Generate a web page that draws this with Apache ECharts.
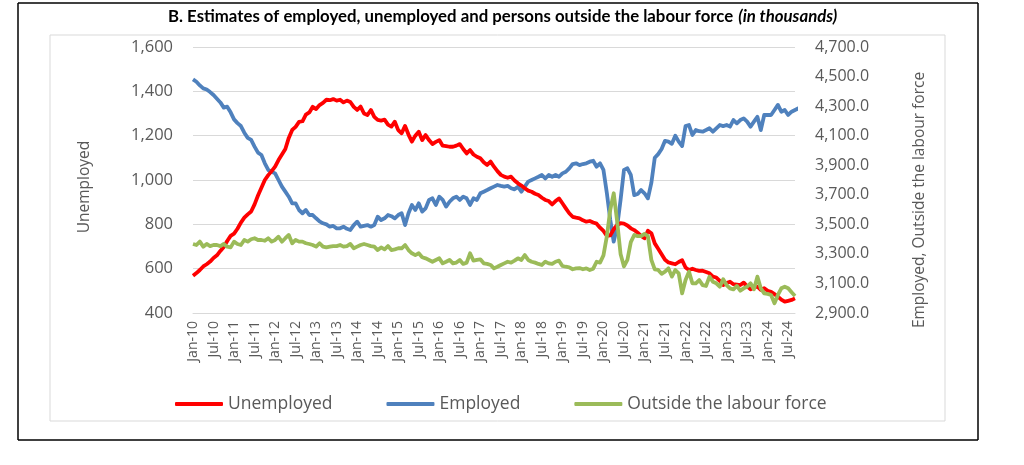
<!DOCTYPE html>
<html>
<head>
<meta charset="utf-8">
<script src="https://cdn.jsdelivr.net/npm/echarts@6/dist/echarts.min.js"></script>
<style>
html,body{margin:0;padding:0;background:#fff;}
#chart{width:1024px;height:465px;}
</style>
</head>
<body>
<div id="chart"></div>
<script>
// ---- Data (in thousands), monthly Jan-2010 .. Sep-2024 ----
var monthNames = ['Jan','Feb','Mar','Apr','May','Jun','Jul','Aug','Sep','Oct','Nov','Dec'];
var startYear = 2010;
var monthCount = 177;

var unemployed = [
568,580,594,610,620,632,648,660,680,698,725,748,
758,780,808,830,845,858,890,930,965,1000,1022,1040,
1060,1090,1115,1140,1190,1226,1240,1262,1265,1295,1305,1330,
1320,1338,1348,1362,1360,1365,1358,1362,1350,1358,1352,1330,
1316,1331,1300,1293,1316,1285,1271,1268,1272,1250,1241,1263,
1225,1211,1244,1205,1173,1200,1218,1180,1203,1180,1162,1172,
1180,1155,1153,1150,1150,1155,1162,1140,1120,1135,1115,1105,
1098,1080,1068,1083,1060,1040,1023,1015,1010,1015,998,985,
975,963,952,947,938,932,920,910,905,890,905,917,
895,872,850,834,830,827,818,812,815,808,803,785,
770,748,750,778,797,805,803,795,782,774,762,748,
737,771,760,714,690,665,640,628,624,620,630,638,
605,594,600,594,590,591,585,579,564,560,545,526,
535,541,530,528,526,537,520,507,515,519,505,512,
500,496,485,474,460,451,455,459,466
];

var employed = [
4481,4465,4440,4420,4412,4395,4375,4350,4325,4290,4296,4258,
4210,4185,4165,4120,4085,4071,4026,3985,3969,3913,3868,3856,
3845,3800,3755,3721,3687,3642,3642,3597,3575,3597,3563,3563,
3541,3520,3507,3500,3484,3489,3473,3473,3484,3470,3462,3495,
3518,3484,3490,3495,3484,3495,3552,3529,3541,3563,3555,3541,
3563,3575,3495,3575,3631,3597,3642,3586,3608,3665,3676,3631,
3687,3665,3620,3653,3676,3687,3665,3687,3676,3631,3676,3665,
3710,3721,3732,3744,3755,3766,3760,3755,3760,3744,3737,3755,
3721,3755,3789,3800,3811,3822,3834,3811,3834,3822,3834,3822,
3845,3856,3879,3908,3913,3901,3908,3913,3924,3930,3890,3913,
3868,3710,3529,3383,3484,3665,3868,3879,3834,3698,3705,3732,
3710,3676,3780,3950,3975,4010,4065,4060,4045,4100,4060,4030,
4165,4172,4105,4138,4130,4127,4138,4150,4127,4150,4172,4165,
4172,4161,4206,4184,4206,4217,4195,4161,4195,4228,4138,4240,
4240,4240,4274,4308,4262,4274,4240,4262,4274,4285,4296
];

var outsideLF = [
3367,3360,3383,3349,3367,3353,3360,3360,3353,3367,3349,3344,
3383,3367,3360,3394,3383,3399,3406,3394,3394,3389,3406,3383,
3394,3416,3383,3406,3428,3372,3394,3383,3383,3372,3367,3360,
3349,3372,3349,3344,3349,3353,3353,3360,3349,3353,3367,3338,
3349,3360,3367,3360,3353,3349,3326,3344,3331,3353,3326,3331,
3338,3338,3360,3326,3304,3292,3304,3277,3270,3259,3247,3259,
3270,3236,3247,3259,3236,3241,3259,3232,3241,3304,3254,3259,
3263,3236,3232,3225,3202,3213,3225,3236,3247,3241,3254,3270,
3259,3292,3259,3247,3241,3232,3225,3247,3236,3232,3247,3254,
3218,3213,3209,3196,3202,3204,3196,3202,3191,3200,3247,3241,
3290,3420,3600,3710,3520,3300,3215,3260,3380,3428,3420,3420,
3435,3420,3260,3195,3191,3165,3180,3202,3146,3191,3168,3033,
3123,3180,3101,3101,3123,3089,3083,3146,3112,3101,3078,3128,
3089,3067,3060,3083,3051,3067,3078,3101,3060,3146,3067,3033,
3029,3022,2966,3022,3067,3078,3067,3040,3015
];

var categories = [];
for (var k = 0; k < monthCount; k++) {
  var yy = startYear + Math.floor(k / 12);
  categories.push(monthNames[k % 12] + '-' + String(yy).slice(2));
}

var titleBold = 'B. Estimates of employed, unemployed and persons outside the labour force';
var titleItalic = '(in thousands)';
var leftAxisName = 'Unemployed';
var rightAxisName = 'Employed, Outside the labour force';
var seriesNames = ['Unemployed', 'Employed', 'Outside the labour force'];

var TFONT = 'Lato, "Open Sans", sans-serif';
var FONT = '"Open Sans", Lato, sans-serif';
var GREY = '#595959';

var chart = echarts.init(document.getElementById('chart'), null, {renderer: 'canvas'});
chart.setOption({
  animation: false,
  backgroundColor: '#ffffff',
  title: {
    text: '{b|' + titleBold + '} {i|' + titleItalic + '}',
    left: 163,
    top: 3,
    textStyle: {
      rich: {
        b: {fontFamily: TFONT, fontWeight: 'bold', fontSize: 16.8, color: '#000'},
        i: {fontFamily: TFONT, fontStyle: 'italic', fontSize: 16.8, color: '#000'}
      }
    }
  },
  graphic: [
    {type: 'line', shape: {x1: 18, y1: 3, x2: 978, y2: 3}, style: {stroke: '#000', lineWidth: 1.5}, silent: true},
    {type: 'line', shape: {x1: 18, y1: 3, x2: 18, y2: 440}, style: {stroke: '#000', lineWidth: 1.5}, silent: true},
    {type: 'line', shape: {x1: 978, y1: 3, x2: 978, y2: 440}, style: {stroke: '#000', lineWidth: 1.5}, silent: true},
    {type: 'line', shape: {x1: 18, y1: 440, x2: 978, y2: 440}, style: {stroke: '#000', lineWidth: 1.5}, silent: true},
    {type: 'rect', shape: {x: 50, y: 35, width: 895, height: 386}, style: {fill: 'none', stroke: '#d9d9d9', lineWidth: 1}, silent: true, z: -1}
  ],
  legend: {
    left: 170,
    top: 390,
    itemWidth: 48,
    itemHeight: 4,
    itemGap: 54,
    icon: 'roundRect',
    textStyle: {fontFamily: FONT, fontSize: 17.5, color: GREY},
    data: seriesNames
  },
  grid: {left: 193, right: 229, top: 47, bottom: 152, containLabel: false},
  xAxis: {
    type: 'category',
    data: categories,
    boundaryGap: false,
    axisLine: {show: true, lineStyle: {color: '#d9d9d9'}},
    axisTick: {show: false},
    axisLabel: {
      interval: 5,
      rotate: 90,
      margin: 8,
      fontFamily: FONT,
      fontSize: 14,
      color: GREY
    },
    splitLine: {show: false}
  },
  yAxis: [
    {
      type: 'value',
      min: 400, max: 1600, interval: 200,
      position: 'left',
      name: leftAxisName,
      nameLocation: 'middle',
      nameGap: 100,
      nameRotate: 90,
      nameTextStyle: {fontFamily: FONT, fontSize: 15.5, color: GREY, padding: [0, 14, 0, 0]},
      axisLine: {show: false},
      axisTick: {show: false},
      axisLabel: {
        margin: 20,
        fontFamily: FONT, fontSize: 16.5, color: GREY,
        formatter: function (v) { return v.toLocaleString('en-US'); }
      },
      splitLine: {show: true, lineStyle: {color: '#d9d9d9', width: 1}}
    },
    {
      type: 'value',
      min: 2900, max: 4700, interval: 200,
      position: 'right',
      name: rightAxisName,
      nameLocation: 'middle',
      nameGap: 117,
      nameRotate: 90,
      nameTextStyle: {fontFamily: FONT, fontSize: 15.5, color: GREY, padding: [0, 40, 0, 0]},
      axisLine: {show: false},
      axisTick: {show: false},
      axisLabel: {
        margin: 20,
        fontFamily: FONT, fontSize: 16, color: GREY,
        formatter: function (v) { return v.toLocaleString('en-US', {minimumFractionDigits: 1, maximumFractionDigits: 1}); }
      },
      splitLine: {show: false}
    }
  ],
  series: [
    {
      name: seriesNames[0], type: 'line', yAxisIndex: 0, data: unemployed,
      showSymbol: false, symbol: 'none',
      lineStyle: {color: '#ff0000', width: 3.8, join: 'round'},
      itemStyle: {color: '#ff0000'}, z: 3
    },
    {
      name: seriesNames[1], type: 'line', yAxisIndex: 1, data: employed,
      showSymbol: false, symbol: 'none',
      lineStyle: {color: '#4f81bd', width: 3.8, join: 'round'},
      itemStyle: {color: '#4f81bd'}, z: 2
    },
    {
      name: seriesNames[2], type: 'line', yAxisIndex: 1, data: outsideLF,
      showSymbol: false, symbol: 'none',
      lineStyle: {color: '#9bbb59', width: 3.8, join: 'round'},
      itemStyle: {color: '#9bbb59'}, z: 4
    }
  ]
});
</script>
</body>
</html>
